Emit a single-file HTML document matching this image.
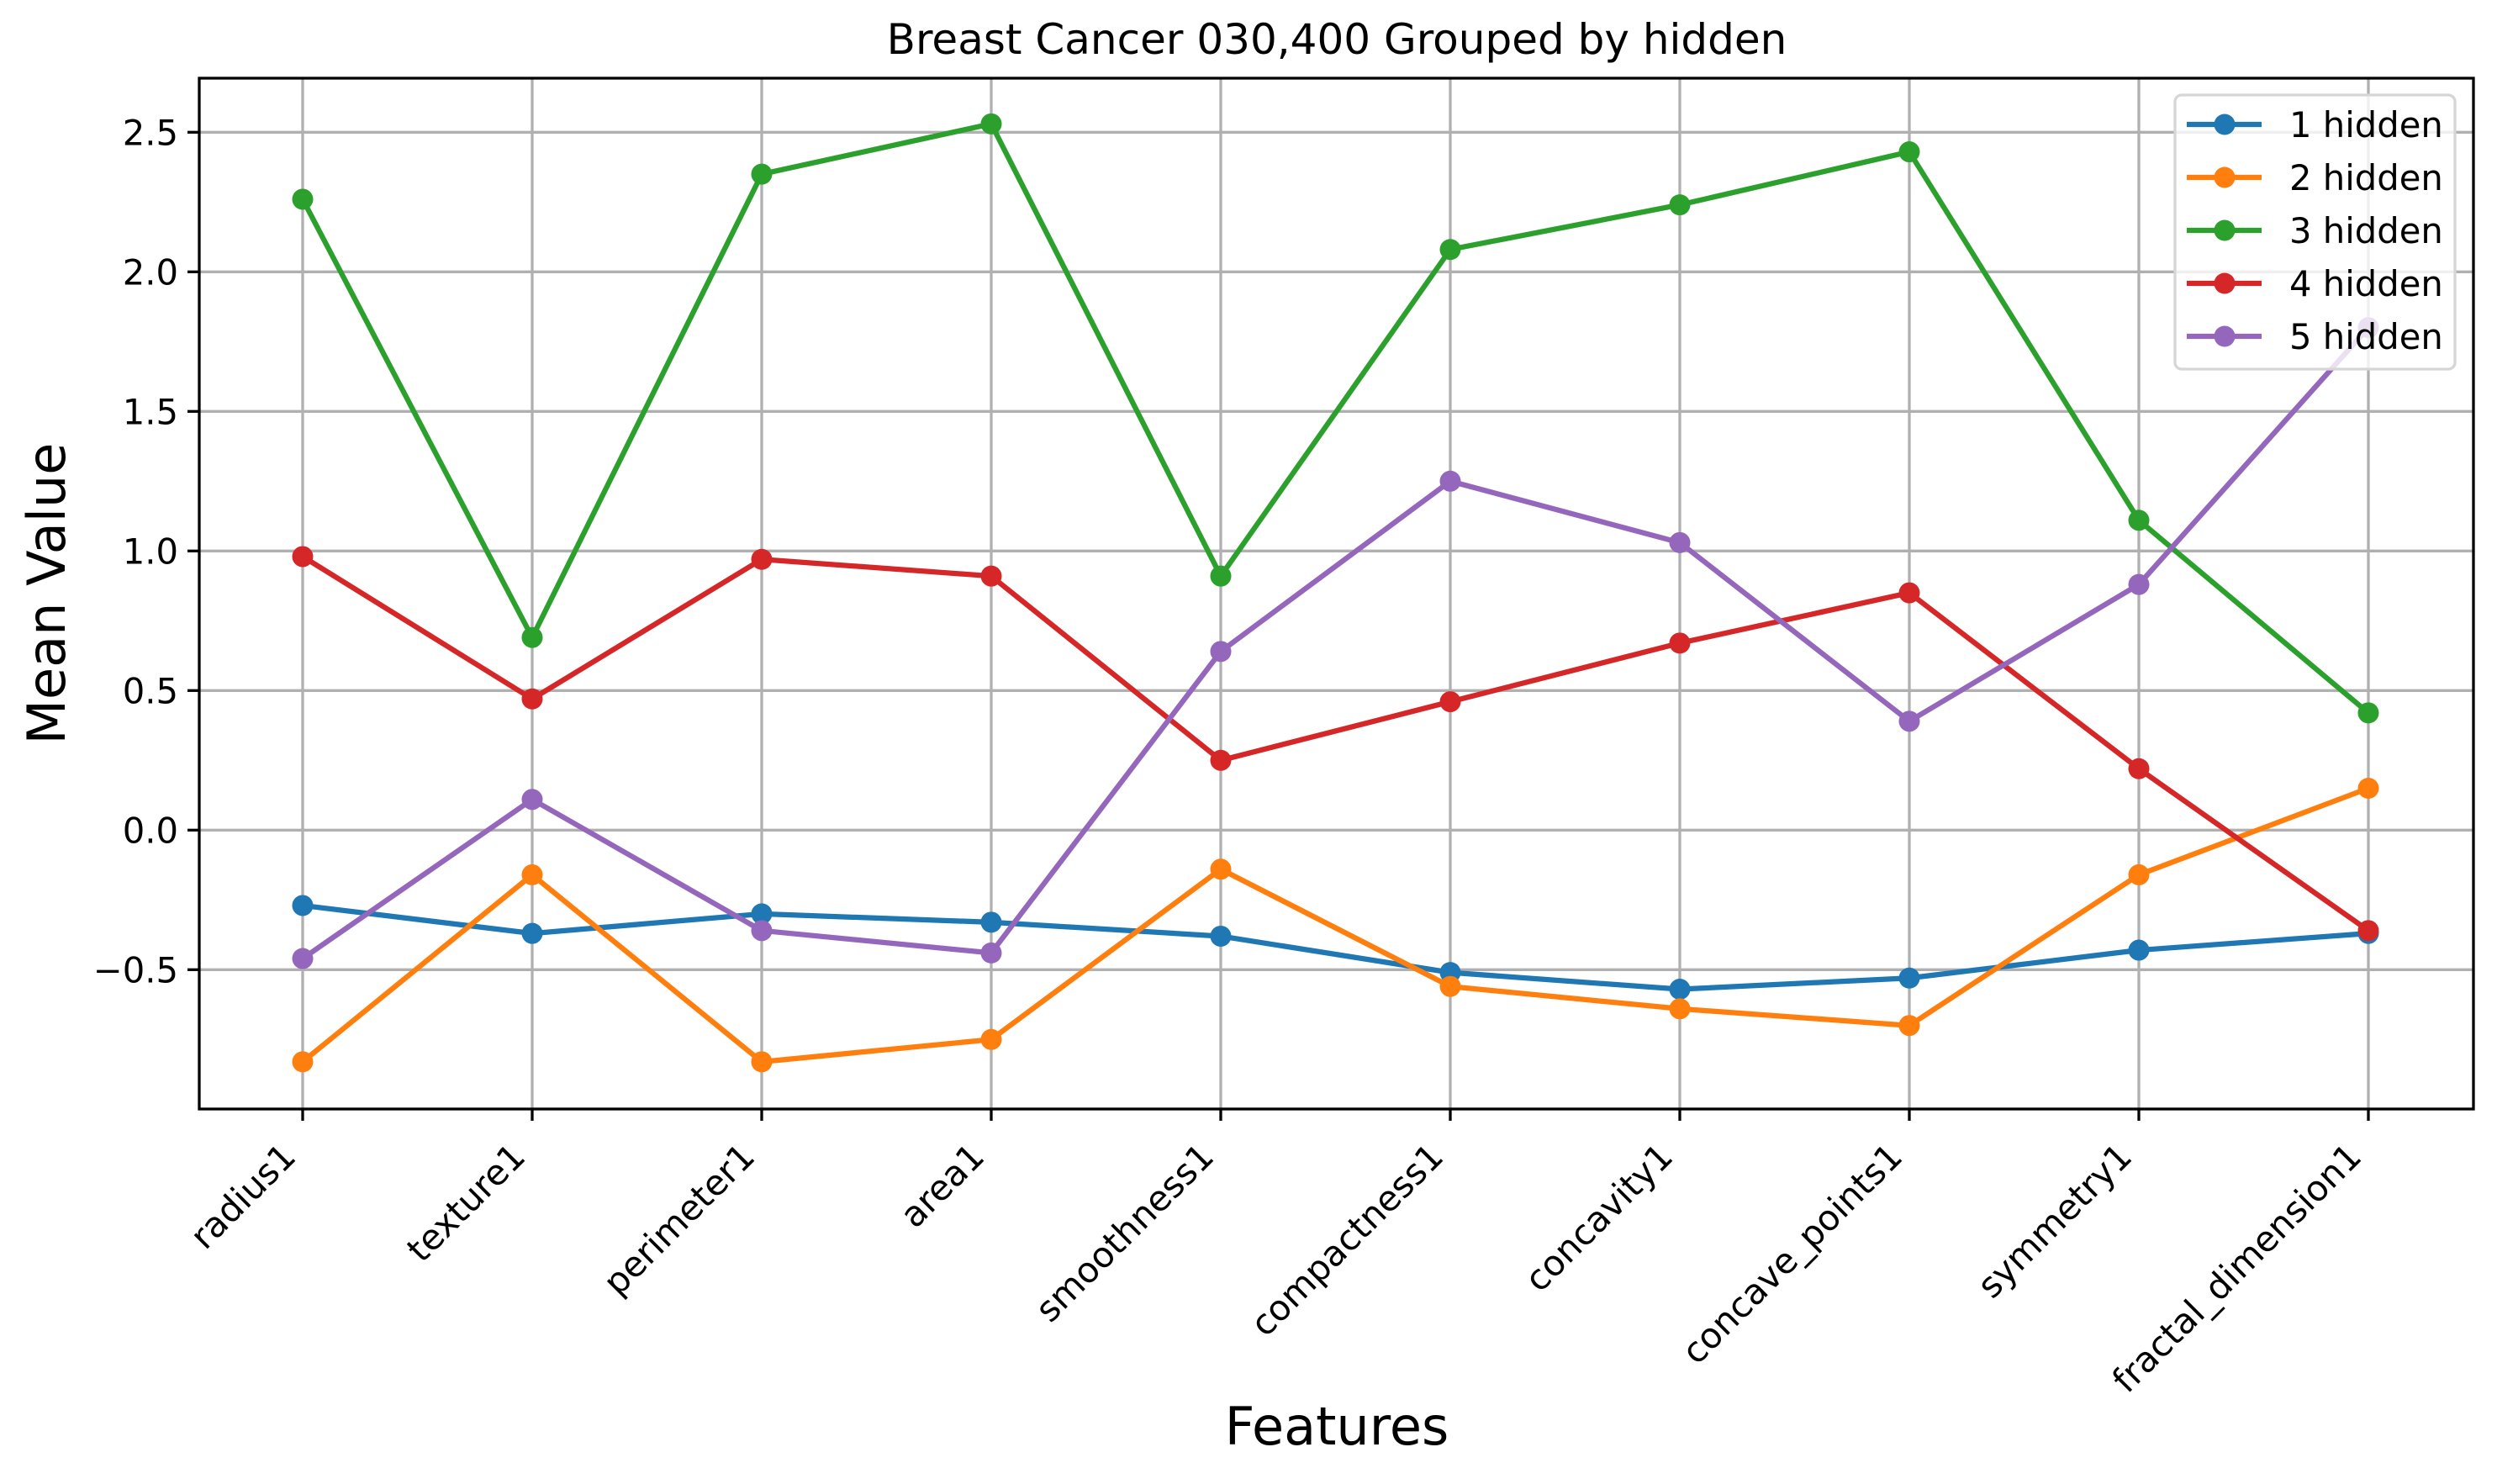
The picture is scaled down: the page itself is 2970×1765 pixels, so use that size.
<!DOCTYPE html>
<html><head><meta charset="utf-8"><style>
html,body{margin:0;padding:0;background:#fff;}
svg{display:block;font-family:"DejaVu Sans","Liberation Sans",sans-serif;}
</style></head><body>
<svg id="chart" width="2970" height="1765" viewBox="0 0 2970 1765" xmlns="http://www.w3.org/2000/svg">
<rect width="2970" height="1765" fill="#fff"/>
<g id="grid"></g>
<g id="series"></g>
<rect x="237" y="93" width="2705" height="1226" fill="none" stroke="#000" stroke-width="3.3"/>
<g id="ticks"></g>
<text x="1590" y="64" font-size="50" text-anchor="middle">Breast Cancer 030,400 Grouped by hidden</text>
<text x="1590" y="1718" font-size="62" text-anchor="middle">Features</text>
<text transform="translate(77,706) rotate(-90)" font-size="62" text-anchor="middle">Mean Value</text>
<g id="legend"></g>
</svg>
<script>
const categories=["radius1","texture1","perimeter1","area1","smoothness1","compactness1","concavity1","concave_points1","symmetry1","fractal_dimension1"];
const seriesNames=["1 hidden","2 hidden","3 hidden","4 hidden","5 hidden"];
const s1=[-0.27,-0.37,-0.30,-0.33,-0.38,-0.51,-0.57,-0.53,-0.43,-0.37];
const s2=[-0.83,-0.16,-0.83,-0.75,-0.14,-0.56,-0.64,-0.70,-0.16,0.15];
const s3=[2.26,0.69,2.35,2.53,0.91,2.08,2.24,2.43,1.11,0.42];
const s4=[0.98,0.47,0.97,0.91,0.25,0.46,0.67,0.85,0.22,-0.36];
const s5=[-0.46,0.11,-0.36,-0.44,0.64,1.25,1.03,0.39,0.88,1.80];
const yTicks=[-0.5,0.0,0.5,1.0,1.5,2.0,2.5];
const yTickLabels=["\u22120.5","0.0","0.5","1.0","1.5","2.0","2.5"];
const colors=["#1f77b4","#ff7f0e","#2ca02c","#d62728","#9467bd"];
const NS="http://www.w3.org/2000/svg";
function X(i){return 360+i*273;}
function Y(v){return 987.3-v*332;}
function mk(tag,attrs,parent){const e=document.createElementNS(NS,tag);for(const k in attrs)e.setAttribute(k,attrs[k]);parent.appendChild(e);return e;}
const grid=document.getElementById('grid'),ticks=document.getElementById('ticks'),ser=document.getElementById('series'),leg=document.getElementById('legend');
categories.forEach((c,i)=>{
 const g=mk('line',{x1:X(i),x2:X(i),y1:93,y2:1319,stroke:'#b0b0b0','stroke-width':3.3},grid);
 
 
 const t=mk('line',{x1:X(i),x2:X(i),y1:1319,y2:1333,stroke:'#000','stroke-width':3.3},ticks);
 
 
 const l=mk('text',{transform:`translate(${X(i)-6},1378) rotate(-45)`,'font-size':41.7,'text-anchor':'end'},ticks);
 l.textContent=c;
 
 
});
yTicks.forEach((v,i)=>{
 const g=mk('line',{x1:237,x2:2942,y1:Y(v),y2:Y(v),stroke:'#b0b0b0','stroke-width':3.3},grid);
 
 
 const t=mk('line',{x1:223,x2:237,y1:Y(v),y2:Y(v),stroke:'#000','stroke-width':3.3},ticks);
 
 
 const l=mk('text',{x:212,y:Y(v)+15,'font-size':41.7,'text-anchor':'end'},ticks);
 l.textContent=yTickLabels[i];
 
 
});
[s1,s2,s3,s4,s5].forEach((s,k)=>{
 const g=mk('g',{},ser);
 
 
 const p=mk('polyline',{points:s.map((v,i)=>X(i)+','+Y(v)).join(' '),fill:'none',stroke:colors[k],'stroke-width':6.25,'stroke-linejoin':'round'},g);
 
 
 s.forEach((v,i)=>{
  const c=mk('circle',{cx:X(i),cy:Y(v),r:12.5,fill:colors[k]},g);
  
  
 });
});
const box=mk('rect',{x:2587,y:113,width:333,height:326,rx:8,fill:'#fff','fill-opacity':0.8,stroke:'#d6d6d6','stroke-width':3.3},leg);


seriesNames.forEach((n,k)=>{
 const y=148+k*63;
 const g=mk('g',{},leg);
 
 
 mk('line',{x1:2601,x2:2690,y1:y,y2:y,stroke:colors[k],'stroke-width':6.25},g);
 mk('circle',{cx:2646,cy:y,r:12.5,fill:colors[k]},g);
 const t=mk('text',{x:2723,y:y+15,'font-size':41.7},g);
 t.textContent=n;
 
 
});
</script>
</body></html>
